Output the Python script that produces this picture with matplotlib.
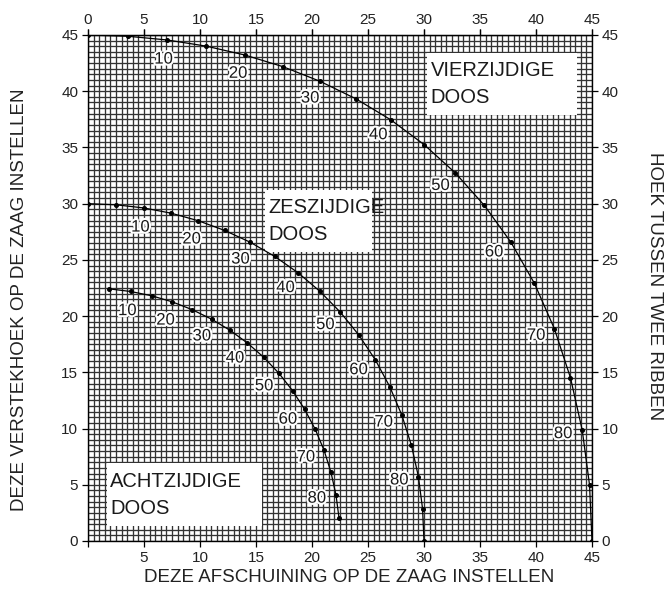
import numpy as np
import matplotlib
matplotlib.use("Agg")
import matplotlib.pyplot as plt
import matplotlib.patheffects as pe

plt.rcParams.update({
    "font.family": ["Liberation Sans", "DejaVu Sans"],
    "font.size": 11,
})

# hellingshoek van de zijkanten (graden), stap 5
slope = [0, 5, 10, 15, 20, 25, 30, 35, 40, 45, 50, 55, 60, 65, 70, 75, 80, 85, 90]

# vierzijdige doos: afschuining (x) en verstekhoek (y)
bevel4 = [0, 3.53, 7.05, 10.55, 14.00, 17.39, 20.70, 23.93, 27.03, 30.00,
          32.80, 35.39, 37.76, 39.86, 41.64, 43.08, 44.13, 44.78, 45.0]
miter4 = [45.0, 44.89, 44.56, 44.01, 43.22, 42.19, 40.89, 39.32, 37.46, 35.26,
          32.73, 29.84, 26.57, 22.91, 18.88, 14.51, 9.85, 4.98, 0]

# zeszijdige doos
bevel6 = [0, 2.50, 4.98, 7.44, 9.85, 12.20, 14.48, 16.67, 18.75, 20.70,
          22.52, 24.18, 25.66, 26.95, 28.03, 28.88, 29.50, 29.87, 30.0]
miter6 = [30.0, 29.90, 29.62, 29.15, 28.48, 27.62, 26.57, 25.31, 23.86, 22.21,
          20.36, 18.32, 16.10, 13.71, 11.17, 8.50, 5.73, 2.88, 0]

# achtzijdige doos (5..85)
bevel8 = [1.91, 3.81, 5.68, 7.52, 9.31, 11.03, 12.68, 14.24, 15.70,
          17.05, 18.27, 19.35, 20.29, 21.08, 21.69, 22.14, 22.41]
miter8 = [22.42, 22.19, 21.81, 21.27, 20.57, 19.73, 18.74, 17.60, 16.33,
          14.91, 13.36, 11.70, 9.93, 8.06, 6.12, 4.11, 2.07]
slope8 = slope[1:-1]

labelled = [10, 20, 30, 40, 50, 60, 70, 80]

boxes = [("VIERZIJDIGE\nDOOS", 30.3, 37.9, 43.7, 43.4),
         ("ZESZIJDIGE\nDOOS", 15.8, 25.7, 25.4, 31.2),
         ("ACHTZIJDIGE\nDOOS", 1.7, 1.3, 15.5, 6.9)]

fig = plt.figure(figsize=(6.70, 5.96), dpi=100)
ax = fig.add_axes([88 / 670, 1 - 541 / 596, 504 / 670, 506 / 596])

# fijn raster, elke halve graad
for v in np.arange(0, 45.01, 0.5):
    ax.axvline(v, color="0.2", lw=0.95, zorder=1)
    ax.axhline(v, color="0.2", lw=0.95, zorder=1)

for x0, y0, x1, y1 in [(b[1], b[2], b[3], b[4]) for b in boxes]:
    ax.add_patch(plt.Rectangle((x0, y0), x1 - x0, y1 - y0, fc="white", ec="none", zorder=2))
for txt, x0, y0, x1, y1 in boxes:
    ax.text(x0 + 0.3, (y0 + y1) / 2, txt, ha="left", va="center", fontsize=14.5,
            linespacing=1.55, color="#1a1a1a", zorder=3)

halo = [pe.withStroke(linewidth=3, foreground="white")]
for s, bx, my in [(slope, bevel4, miter4), (slope, bevel6, miter6), (slope8, bevel8, miter8)]:
    ax.plot(bx, my, color="black", lw=0.9, zorder=4)
    ax.plot(bx, my, "o", color="black", ms=2.6, zorder=5)
    for si, xi, yi in zip(s, bx, my):
        if si in labelled:
            r = 14
            dx = -r * np.sin(np.radians(si))
            dy = -r * np.cos(np.radians(si))
            ax.annotate(str(si), (xi, yi), xytext=(dx, dy), textcoords="offset points",
                        ha="center", va="center", fontsize=12, color="#1a1a1a",
                        path_effects=halo, zorder=6)

ax.set_xlim(0, 45)
ax.set_ylim(0, 45)
ticks = [0, 5, 10, 15, 20, 25, 30, 35, 40, 45]
ax.set_xticks(ticks)
ax.set_xticklabels([""] + [str(t) for t in ticks[1:]])
ax.set_yticks(ticks)
ax.tick_params(direction="out", length=4, width=0.9, top=True, right=True,
               labeltop=False, labelright=True, pad=3, labelcolor="#222222")
secx = ax.secondary_xaxis("top")
secx.set_xticks(ticks)
secx.tick_params(direction="out", length=4, width=0.9, pad=2, labelcolor="#222222")
for sp in ax.spines.values():
    sp.set_linewidth(1.0)
    sp.set_zorder(7)

ax.set_xlabel("DEZE AFSCHUINING OP DE ZAAG INSTELLEN", fontsize=13.5, color="#222222")
ax.xaxis.set_label_coords((349 - 88) / 504, (541 - 569) / 506)
ax.set_ylabel("DEZE VERSTEKHOEK OP DE ZAAG INSTELLEN", fontsize=13.5, color="#222222")
ax.yaxis.set_label_coords((28 - 88) / 504, (541 - 300) / 506)
fig.text(654 / 670, 1 - 286 / 596, "HOEK TUSSEN TWEE RIBBEN", rotation=-90,
         ha="center", va="center", fontsize=13.5, color="#222222")

fig.savefig("out.png", dpi=100)
